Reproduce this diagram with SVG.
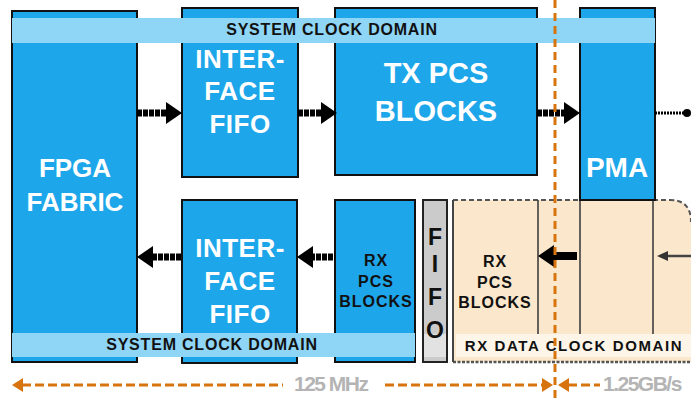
<svg xmlns="http://www.w3.org/2000/svg" width="691" height="398" viewBox="0 0 691 398">
  <defs>
    <style>
      .blk { fill: #1ea6ea; stroke: #111; stroke-width: 2; }
      .band { fill: #8fd5f6; }
      .beige { fill: #fbe7cb; }
      .wt { font-family: "Liberation Sans", Arial, sans-serif; font-weight: bold; fill: #fff; text-anchor: middle; }
      .bt { font-family: "Liberation Sans", Arial, sans-serif; font-weight: bold; fill: #111; text-anchor: middle; }
      .gt { font-family: "Liberation Sans", Arial, sans-serif; font-weight: bold; fill: #b4b4b4; }
      .shaft { stroke: #000; stroke-width: 7; stroke-dasharray: 5 1; fill: none; }
      .orng { stroke: #d8740e; stroke-width: 3; fill: none; stroke-dasharray: 9 4; }
    </style>
    <path id="head" d="M0,0 L-16,-11 L-16,11 Z" fill="#000"/>
    <path id="ohead" d="M0,0 L-11,-7 L-11,7 Z" fill="#d8740e"/>
  </defs>

  <!-- transceiver clock region (beige) -->
  <g id="rx-data-region">
    <path class="beige" d="M453,200 H670 Q691,200 691,222 V362 H453 Z"/>
    <path d="M453,200 H670 Q691,200 691,222" fill="none" stroke="#555" stroke-width="2" stroke-dasharray="5 3"/>
    <path d="M453,362 H691" fill="none" stroke="#555" stroke-width="2.5" stroke-dasharray="3 1.5"/>
    <line x1="453" y1="200" x2="453" y2="362" stroke="#444" stroke-width="2"/>
    <line x1="538" y1="200" x2="538" y2="335" stroke="#333" stroke-width="1.5"/>
    <line x1="580" y1="200" x2="580" y2="335" stroke="#333" stroke-width="1.5"/>
    <line x1="653" y1="200" x2="653" y2="335" stroke="#333" stroke-width="1.5"/>
    <rect x="456" y="334" width="235" height="23" fill="#fdf5e8"/>
  </g>

  <g id="fpga-fabric">
    <rect class="blk" x="12" y="11" width="125" height="351"/>
    <text class="wt" x="75" y="177" font-size="26">FPGA</text>
    <text class="wt" x="75" y="211" font-size="26">FABRIC</text>
  </g>

  <g id="tx-interface-fifo">
    <rect class="blk" x="182" y="8" width="116" height="169"/>
  </g>

  <g id="tx-pcs">
    <rect class="blk" x="335" y="8" width="202" height="167"/>
  </g>

  <g id="pma">
    <rect class="blk" x="580" y="8" width="75" height="192"/>
  </g>

  <!-- system clock domain band, transmit side -->
  <g id="sys-clock-top">
    <rect class="band" x="12" y="18" width="643" height="25"/>
    <text class="bt" x="332" y="35" font-size="16" letter-spacing="0.8">SYSTEM CLOCK DOMAIN</text>
  </g>

  <g id="tx-labels">
    <text class="wt" x="240" y="68" font-size="26" letter-spacing="0.5">INTER-</text>
    <text class="wt" x="240" y="100" font-size="26" letter-spacing="0.5">FACE</text>
    <text class="wt" x="240" y="133" font-size="26" letter-spacing="0.5">FIFO</text>
    <text class="wt" x="436" y="83" font-size="29">TX PCS</text>
    <text class="wt" x="436" y="121" font-size="29">BLOCKS</text>
    <text class="wt" x="617" y="177" font-size="28">PMA</text>
  </g>

  <g id="rx-interface-fifo">
    <rect class="blk" x="182" y="200" width="115" height="163"/>
    <text class="wt" x="240" y="257" font-size="26" letter-spacing="0.5">INTER-</text>
    <text class="wt" x="240" y="290" font-size="26" letter-spacing="0.5">FACE</text>
    <text class="wt" x="240" y="323" font-size="26" letter-spacing="0.5">FIFO</text>
  </g>

  <g id="rx-pcs-core">
    <rect class="blk" x="335" y="200" width="80" height="162"/>
    <text class="bt" x="376" y="266" font-size="16" letter-spacing="1">RX</text>
    <text class="bt" x="376" y="287" font-size="16" letter-spacing="1">PCS</text>
    <text class="bt" x="376" y="307" font-size="16" letter-spacing="1">BLOCKS</text>
  </g>

  <g id="phase-fifo">
    <rect x="423" y="200" width="24" height="162" fill="#cbcbcb" stroke="#222" stroke-width="2"/>
    <rect x="424" y="334" width="22" height="23" fill="#e2e2e2"/>
    <text class="bt" x="435" y="245" font-size="23">F</text>
    <text class="bt" x="435" y="272" font-size="23">I</text>
    <text class="bt" x="435" y="305" font-size="23">F</text>
    <text class="bt" x="435" y="338" font-size="23">O</text>
  </g>

  <g id="rx-pcs-transceiver">
    <text class="bt" x="495" y="267" font-size="16" letter-spacing="1">RX</text>
    <text class="bt" x="495" y="288" font-size="16" letter-spacing="1">PCS</text>
    <text class="bt" x="495" y="308" font-size="16" letter-spacing="1">BLOCKS</text>
  </g>

  <!-- system clock domain band, receive side -->
  <g id="sys-clock-bottom">
    <rect class="band" x="12" y="333" width="403" height="24"/>
    <text class="bt" x="212" y="350" font-size="16" letter-spacing="0.8">SYSTEM CLOCK DOMAIN</text>
  </g>

  <g id="rx-clock-label">
    <text class="bt" x="574" y="351" font-size="15" letter-spacing="1.6">RX DATA CLOCK DOMAIN</text>
  </g>

  <g id="connectors">
    <!-- transmit path -->
    <line class="shaft" x1="137" y1="113" x2="168" y2="113"/>
    <use href="#head" x="182" y="113"/>
    <line class="shaft" x1="298" y1="113" x2="324" y2="113"/>
    <use href="#head" x="337" y="113"/>
    <line class="shaft" x1="537" y1="113" x2="565" y2="113"/>
    <use href="#head" x="580" y="113"/>
    <line x1="655" y1="113" x2="686" y2="113" stroke="#000" stroke-width="3" stroke-dasharray="2 1"/>
    <circle cx="687" cy="113" r="4" fill="#000"/>
    <!-- receive path -->
    <line class="shaft" x1="152" y1="257" x2="182" y2="257"/>
    <use href="#head" transform="translate(137 257) rotate(180)"/>
    <line class="shaft" x1="310" y1="257" x2="335" y2="257"/>
    <use href="#head" transform="translate(297 257) rotate(180)"/>
    <line x1="552" y1="256" x2="577" y2="256" stroke="#000" stroke-width="8"/>
    <use href="#head" transform="translate(538 256) rotate(180)"/>
    <line x1="666" y1="256" x2="691" y2="256" stroke="#444" stroke-width="2.5"/>
    <path d="M657,256 L668,251 L668,261 Z" fill="#333"/>
    <!-- clock boundary -->
    <line x1="555" y1="0" x2="555" y2="398" stroke="#d8740e" stroke-width="3" stroke-dasharray="8 5"/>
    <line class="orng" x1="22" y1="385" x2="283" y2="385"/>
    <use href="#ohead" transform="translate(12 385) rotate(180)"/>
    <line class="orng" x1="385" y1="385" x2="542" y2="385"/>
    <use href="#ohead" x="553" y="385"/>
    <line class="orng" x1="568" y1="385" x2="600" y2="385"/>
    <use href="#ohead" transform="translate(558 385) rotate(180)"/>
  </g>

  <g id="rate-labels">
    <text class="gt" x="294" y="391" font-size="21" letter-spacing="-1.5">125 MHz</text>
    <text class="gt" x="603" y="391" font-size="21" letter-spacing="-1.5">1.25GB/s</text>
  </g>
</svg>
